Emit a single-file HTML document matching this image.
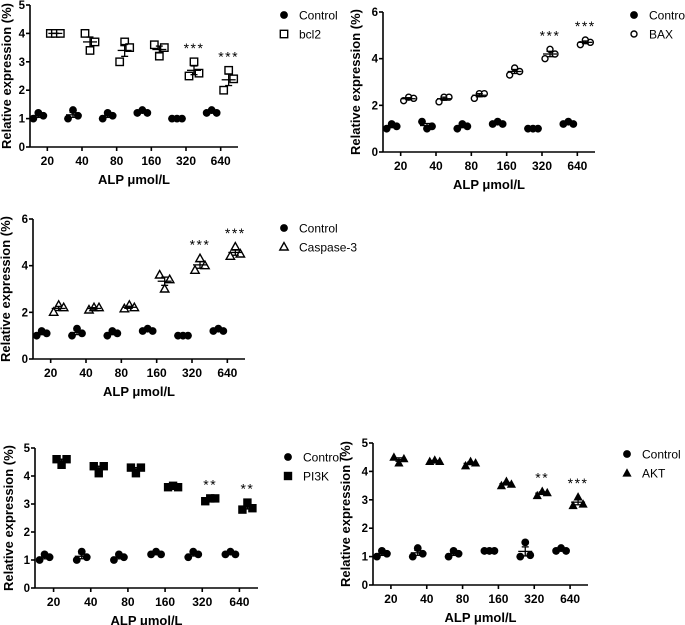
<!DOCTYPE html>
<html><head><meta charset="utf-8"><style>
body{margin:0;background:#fff;}
svg{display:block;font-family:"Liberation Sans",Arial,sans-serif;}
</style></head><body>
<svg id="fig" width="685" height="625" viewBox="0 0 685 625"></svg>
<script>
const categories = ["20","40","80","160","320","640"];
const p1Control = [[1,1.2,1.1],[1,1.3,1.1],[1,1.2,1.1],[1.2,1.3,1.2],[1,1,1],[1.2,1.3,1.2]];
const p1Bcl2 = [[4,4,4],[4,3.4,3.7],[3,3.7,3.5],[3.6,3.2,3.5],[2.5,3.0,2.6],[2.0,2.7,2.4]];
const p1Stars = ["","","","","***","***"];
const p2Control = [[1,1.2,1.1],[1.3,1,1.1],[1,1.2,1.1],[1.2,1.3,1.2],[1,1,1],[1.2,1.3,1.2]];
const p2Bax = [[2.2,2.35,2.3],[2.15,2.35,2.35],[2.3,2.5,2.5],[3.3,3.6,3.45],[4.0,4.4,4.2],[4.6,4.8,4.7]];
const p2Stars = ["","","","","***","***"];
const p3Control = [[1,1.2,1.1],[1,1.3,1.1],[1,1.2,1.1],[1.2,1.3,1.2],[1,1,1],[1.2,1.3,1.2]];
const p3Casp = [[2.0,2.3,2.2],[2.1,2.2,2.2],[2.15,2.3,2.2],[3.6,3.0,3.4],[3.8,4.3,4.0],[4.4,4.8,4.5]];
const p3Stars = ["","","","","***","***"];
const p4Control = [[1,1.2,1.1],[1,1.3,1.1],[1,1.2,1.1],[1.2,1.3,1.2],[1.1,1.3,1.2],[1.2,1.3,1.2]];
const p4Pi3k = [[4.6,4.4,4.6],[4.35,4.1,4.35],[4.3,4.1,4.3],[3.6,3.65,3.6],[3.1,3.2,3.2],[2.8,3.05,2.85]];
const p4Stars = ["","","","","**","**"];
const p5Control = [[1,1.2,1.1],[1,1.3,1.1],[1,1.2,1.1],[1.2,1.2,1.2],[1,1.5,1.05],[1.2,1.3,1.2]];
const p5Akt = [[4.5,4.3,4.45],[4.35,4.4,4.35],[4.2,4.35,4.3],[3.5,3.65,3.55],[3.15,3.3,3.25],[2.8,3.1,2.85]];
const p5Stars = ["","","","","**","***"];

const svg = document.getElementById('fig');
const NS = 'http://www.w3.org/2000/svg';
function mk(tag, attrs, parent){const e=document.createElementNS(NS,tag);for(const k in attrs)e.setAttribute(k,attrs[k]);(parent||svg).appendChild(e);return e;}

function marker(g, type, x, y){
  let e;
  if(type==='fcircle'){e=mk('circle',{cx:x,cy:y,r:3.9,fill:'#000'},g);}
  else if(type==='ocircle'){e=mk('circle',{cx:x,cy:y,r:3,fill:'#fff',stroke:'#000','stroke-width':1.4},g);}
  else if(type==='osquare'){e=mk('rect',{x:x-3.7,y:y-3.7,width:7.4,height:7.4,fill:'#fff',stroke:'#000','stroke-width':1.4},g);}
  else if(type==='fsquare'){e=mk('rect',{x:x-4.2,y:y-4.2,width:8.4,height:8.4,fill:'#000'},g);}
  else if(type==='otri'){e=mk('polygon',{points:`${x},${y-4.5} ${x-4.2},${y+3} ${x+4.2},${y+3}`,fill:'#fff',stroke:'#000','stroke-width':1.4},g);}
  else {e=mk('polygon',{points:`${x},${y-4.8} ${x-4.6},${y+3.6} ${x+4.6},${y+3.6}`,fill:'#000'},g);}
  return e;
}

function panel(o){
  const g = mk('g',{});
  
  
  const yS = v => o.y0 - (v/o.ymax)*(o.y0-o.yTop);
  const gw = (o.x1-o.x0)/categories.length;
  const xC = i => o.x0 + gw*(i+0.5);
  const ya = mk('line',{x1:o.x0,y1:o.yTop,x2:o.x0,y2:o.y0,stroke:'#000','stroke-width':1.6},g);
   
  const xa = mk('line',{x1:o.x0,y1:o.y0,x2:o.x1,y2:o.y0,stroke:'#000','stroke-width':1.6},g);
   
  for(let v=0; v<=o.ymax; v+=o.ystep){
    mk('line',{x1:o.x0-4,y1:yS(v),x2:o.x0,y2:yS(v),stroke:'#000','stroke-width':1.6},g);
    const t = mk('text',{x:o.x0-5,y:yS(v)+4,'text-anchor':'end','font-size':11.5,'font-weight':'bold'},g);
    t.textContent = v;
     
  }
  categories.forEach((c,i)=>{
    mk('line',{x1:xC(i),y1:o.y0,x2:xC(i),y2:o.y0+4,stroke:'#000','stroke-width':1.6},g);
    const t = mk('text',{x:xC(i),y:o.y0+18,'text-anchor':'middle','font-size':12,'font-weight':'bold'},g);
    t.textContent = c;
     
  });
  const yt = mk('text',{x:0,y:0,'text-anchor':'middle','font-size':13,'font-weight':'bold',transform:`translate(${o.ytx+1},${(o.yTop+o.y0)/2}) rotate(-90)`},g);
  yt.textContent = 'Relative expression (%)';
   
  const xt = mk('text',{x:(o.x0+o.x1)/2,y:o.y0+37,'text-anchor':'middle','font-size':13,'font-weight':'bold'},g);
  xt.textContent = 'ALP μmol/L';
   
  const series = [[o.ctrl,'fcircle',-9,'control'],[o.trt,o.mk,8,'treatment']];
  series.forEach(([data,type,off,sn])=>{
    data.forEach((pts,i)=>{
      const cx = xC(i)+off;
      const mean = pts.reduce((a,b)=>a+b,0)/pts.length;
      const sd = Math.sqrt(pts.reduce((a,b)=>a+(b-mean)**2,0)/(pts.length-1));
      const sem = sd/Math.sqrt(pts.length);
      pts.forEach((v,j)=>{
        const m = marker(g,type,cx+(j-1)*5,yS(v));
        
        
      });
      mk('line',{x1:cx-7,y1:yS(mean),x2:cx+7,y2:yS(mean),stroke:'#000','stroke-width':1.3},g);
      mk('line',{x1:cx,y1:yS(mean+sem),x2:cx,y2:yS(mean-sem),stroke:'#000','stroke-width':1.3},g);
      mk('line',{x1:cx-3.5,y1:yS(mean+sem),x2:cx+3.5,y2:yS(mean+sem),stroke:'#000','stroke-width':1.3},g);
      mk('line',{x1:cx-3.5,y1:yS(mean-sem),x2:cx+3.5,y2:yS(mean-sem),stroke:'#000','stroke-width':1.3},g);
    });
  });
  o.stars.forEach((s,i)=>{
    if(!s) return;
    const mx = Math.max(...o.trt[i]);
    const t = mk('text',{x:xC(i)+8,y:yS(mx)-9,'text-anchor':'middle','font-size':14,'letter-spacing':'1.5'},g);
    t.textContent = s;
     
  });
  const l1 = marker(g,'fcircle',o.lx,o.ly);
   
  const t1 = mk('text',{x:o.lx+15,y:o.ly+4.5,'font-size':12},g);
  t1.textContent='Control';
   
  const l2 = marker(g,o.mk,o.lx,o.ly+19);
   
  const t2 = mk('text',{x:o.lx+15,y:o.ly+23.5,'font-size':12},g);
  t2.textContent=o.label;
   
}

panel({name:'bcl2-chart',x0:30,x1:238,yTop:5,y0:147,ymax:5,ystep:1,ytx:10,ctrl:p1Control,trt:p1Bcl2,mk:'osquare',stars:p1Stars,lx:284,ly:15,label:'bcl2'});
panel({name:'bax-chart',x0:383,x1:595,yTop:12,y0:152,ymax:6,ystep:2,ytx:359,ctrl:p2Control,trt:p2Bax,mk:'ocircle',stars:p2Stars,lx:634,ly:15,label:'BAX'});
panel({name:'caspase3-chart',x0:33,x1:245,yTop:219,y0:359,ymax:6,ystep:2,ytx:9,ctrl:p3Control,trt:p3Casp,mk:'otri',stars:p3Stars,lx:284,ly:228,label:'Caspase-3'});
panel({name:'pi3k-chart',x0:35,x1:258,yTop:448,y0:588,ymax:5,ystep:1,ytx:12,ctrl:p4Control,trt:p4Pi3k,mk:'fsquare',stars:p4Stars,lx:288,ly:457,label:'PI3K'});
panel({name:'akt-chart',x0:373,x1:588,yTop:443,y0:585,ymax:5,ystep:1,ytx:349,ctrl:p5Control,trt:p5Akt,mk:'ftri',stars:p5Stars,lx:627,ly:454,label:'AKT'});
</script>
</body></html>
